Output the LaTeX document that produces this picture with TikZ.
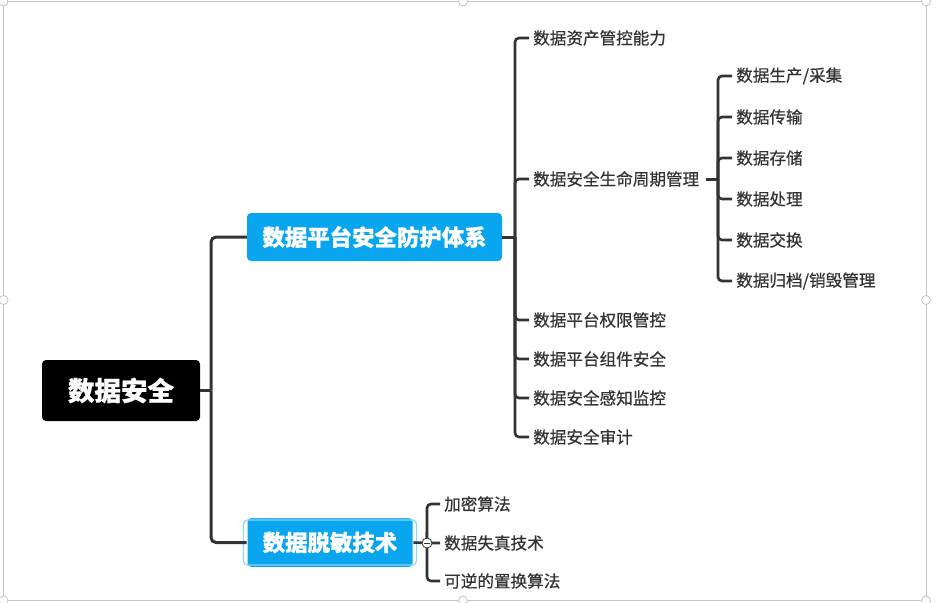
\documentclass[tikz,border=0pt]{standalone}
\usepackage{fontspec}
\setmainfont{Noto Sans CJK SC}
\newfontfamily\cjk{Noto Sans CJK SC}
\newfontfamily\cjkleaf{Noto Sans CJK SC}[FakeBold=0.6]
\newfontfamily\cjkbold{Noto Sans CJK SC}[FakeBold=0.8]
\begin{document}
\begin{tikzpicture}[x=1pt,y=-1pt,
  conn/.style={draw=linegray,line width=2.6pt,rounded corners=4pt},
  trunk/.style={draw=linegray,line width=3pt,rounded corners=5pt},
  rootbox/.style={fill=black,rounded corners=4pt,text=white,font=\cjkbold\bfseries\fontsize{26.5}{26.5}\selectfont,minimum width=158pt,minimum height=61pt,inner sep=0pt},
  branchbox/.style={fill=mainblue,rounded corners=4pt,text=white,font=\cjkbold\bfseries\fontsize{22.4}{22.4}\selectfont,minimum height=48pt,inner sep=0pt},
  leaf/.style={anchor=west,text=textgray,font=\cjkleaf\fontsize{16.6}{16.6}\selectfont,inner xsep=4pt,inner ysep=2pt},
  handle/.style={draw=framegray,fill=white,line width=0.8pt,circle,minimum size=9pt,inner sep=0pt}]
\definecolor{linegray}{HTML}{333333}
\definecolor{textgray}{HTML}{333333}
\definecolor{mainblue}{HTML}{0AA5EF}
\definecolor{selblue}{HTML}{8AD6F8}
\definecolor{framegray}{HTML}{C4C4C4}
\useasboundingbox (0,0) rectangle (938,603);
\fill[white] (0,0) rectangle (938,603);
% frame
\draw[framegray,line width=0.8pt] (3.5,1.5) rectangle (926,600.5);
% nodes
\node[rootbox] (root) at (121,390.5) {数据安全};
\node[branchbox,minimum width=255pt] (b1) at (374.5,237) {数据平台安全防护体系};
\node[branchbox,minimum width=166pt,minimum height=50pt,draw=white,line width=1pt] (b2) at (330,542.5) {数据脱敏技术};
\draw[selblue,line width=1.2pt,rounded corners=4pt] ([xshift=-3pt,yshift=-3pt]b2.north west) rectangle ([xshift=3pt,yshift=3pt]b2.south east);

\node[leaf] (c1) at (529,38) {数据资产管控能力};
\node[leaf] (c2) at (529,179) {数据安全生命周期管理};
\node[leaf] (c3) at (529,320) {数据平台权限管控};
\node[leaf] (c4) at (529,359) {数据平台组件安全};
\node[leaf] (c5) at (529,398) {数据安全感知监控};
\node[leaf] (c6) at (529,437) {数据安全审计};

\node[leaf] (d1) at (732,76) {数据生产/采集};
\node[leaf] (d2) at (732,117) {数据传输};
\node[leaf] (d3) at (732,158) {数据存储};
\node[leaf] (d4) at (732,199) {数据处理};
\node[leaf] (d5) at (732,240) {数据交换};
\node[leaf] (d6) at (732,281) {数据归档/销毁管理};

\node[leaf] (e1) at (440,504) {加密算法};
\node[leaf] (e2) at (440,543) {数据失真技术};
\node[leaf] (e3) at (440,581) {可逆的置换算法};

% junctions
\coordinate (t) at (211,390.5);
\coordinate (j1) at (515,237);
\coordinate (j2) at (718,179);
\coordinate (j3) at (427,543);

% connectors
\draw[trunk] (root.east) -- (t);
\draw[trunk] (t) |- (b1.west);
\draw[trunk] (t) |- (b2.west);

\draw[trunk] (b1.east) -- (j1);
\foreach \c in {c1,c2,c3,c4,c5,c6} \draw[conn] (j1) |- (\c.west);

\draw[trunk] ([xshift=3pt]c2.east) -- (j2);
\foreach \c in {d1,d2,d3,d4,d5,d6} \draw[conn] (j2) |- (\c.west);

\draw[conn] (b2.east) -- (j3);
\foreach \c in {e1,e2,e3} \draw[conn] (j3) |- (\c.west);
\node[draw=linegray,fill=white,circle,line width=0.8pt,minimum size=10pt,inner sep=0pt] (col) at (j3) {};
\draw[linegray,line width=0.9pt] ([xshift=-3pt]col.center) -- ([xshift=3pt]col.center);

% selection handles
\node[handle] (h1) at (3.5,1.5) {};
\node[handle] (h2) at (463,1.5) {};
\node[handle] (h3) at (926,1.5) {};
\node[handle] (h4) at (3.5,300) {};
\node[handle] (h5) at (926,300) {};
\node[handle] (h6) at (3.5,600.5) {};
\node[handle] (h7) at (463,600.5) {};
\node[handle] (h8) at (926,600.5) {};
\end{tikzpicture}
\end{document}
